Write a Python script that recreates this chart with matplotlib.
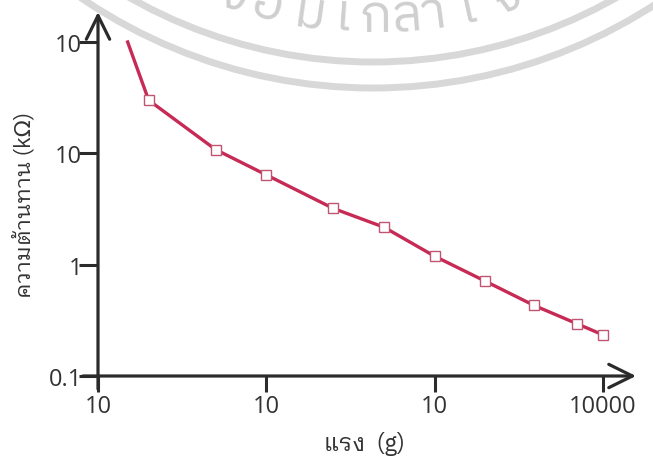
import numpy as np
import matplotlib
matplotlib.use("Agg")
import matplotlib.pyplot as plt
from matplotlib.patches import Circle

# data (log-log)
force_g = [15, 20, 50, 100, 250, 500, 1000, 2000, 3900, 7000, 10000]
resistance_k = [100, 30, 10.8, 6.4, 3.2, 2.17, 1.19, 0.71, 0.43, 0.295, 0.234]

x_ticks = [10, 100, 1000, 10000]
x_ticklabels = ["10", "10", "10", "10000"]
y_ticks = [0.1, 1, 10, 100]
y_ticklabels = ["0.1", "1", "10", "10"]

xlabel = "แรง  (g)"
ylabel = "ความต้านทาน (kΩ)"

# faint watermark text, characters placed along the arc
wm_chars = ["ะ", "จ", "อ", "ม", "เ", "ก", "ล้", "า", "เ", "จ้"]
wm_xpos = [204, 233, 267, 310, 343, 375, 407, 433, 468, 507]

W, H = 653, 460
axis_col = "#2b2b2b"
line_col = "#c62a55"
thai_font = ["IBM Plex Sans Thai Looped", "DejaVu Sans"]
num_font = ["Open Sans", "DejaVu Sans"]

fig = plt.figure(figsize=(W / 100, H / 100), dpi=100)
fig.patch.set_facecolor("white")

# background layer in pixel units for the watermark
bg = fig.add_axes([0, 0, 1, 1], zorder=0)
bg.set_xlim(0, W)
bg.set_ylim(H, 0)
bg.axis("off")
cx, cy = 373, -429
for r in (492, 518):
    bg.add_patch(Circle((cx, cy), r, fill=False, lw=5, ec="#d8d8d8"))
r_txt = 447
for ch, px in zip(wm_chars, wm_xpos):
    th = np.arcsin((px - cx) / r_txt)
    tx = cx + r_txt * np.sin(th)
    ty = cy + r_txt * np.cos(th)
    bg.text(tx, ty, ch, fontsize=38, color="#cfcfcf", family=["IBM Plex Sans Thai", "DejaVu Sans"],
            ha="center", va="center", rotation=np.degrees(th), rotation_mode="anchor")

# main axes, placed by pixel
x0, x1, y0, y1 = 98, 636, 377, 13
ax = fig.add_axes([x0 / W, 1 - y0 / H, (x1 - x0) / W, (y0 - y1) / H], zorder=1)
ax.patch.set_alpha(0)
ax.set_xscale("log")
ax.set_yscale("log")
dec_x = (603 - 98) / 3
dec_y = (377 - 43) / 3
ax.set_xlim(10, 10 ** (1 + (x1 - x0) / dec_x))
ax.set_ylim(0.1, 10 ** (-1 + (y0 - y1) / dec_y))
for s in ax.spines.values():
    s.set_visible(False)

ax.plot(force_g, resistance_k, color=line_col, lw=2.4, zorder=3, clip_on=False)
ax.plot(force_g[1:], resistance_k[1:], ls="none", marker="s", ms=7,
        mfc="white", mec="#c05573", mew=1.0, zorder=4, clip_on=False)

ax.set_xticks(x_ticks)
ax.set_xticklabels(x_ticklabels)
ax.set_yticks(y_ticks)
ax.set_yticklabels(y_ticklabels)
ax.minorticks_off()
ax.tick_params(axis="x", length=11.5, width=2.2, color=axis_col, pad=1.5, labelsize=17, labelcolor="#333333")
ax.tick_params(axis="y", length=13.5, width=2.2, color=axis_col, pad=-2, labelsize=17, labelcolor="#333333")
for lab in ax.get_xticklabels() + ax.get_yticklabels():
    lab.set_family(num_font)

# axis lines with open arrow heads
arrow = dict(arrowstyle="->,head_length=0.85,head_width=0.42", lw=2.3, color=axis_col,
             shrinkA=0, shrinkB=0, mutation_scale=20)
ax.annotate("", xy=(1, 0), xytext=(-15 / (x1 - x0), 0), xycoords="axes fraction",
            textcoords="axes fraction", arrowprops=arrow, annotation_clip=False)
ax.annotate("", xy=(0, 1), xytext=(0, -13 / (y0 - y1)), xycoords="axes fraction",
            textcoords="axes fraction", arrowprops=arrow, annotation_clip=False)

fig.text(364 / W, 1 - 444 / H, xlabel, family=thai_font, fontsize=17, color="#333333",
         ha="center", va="center")
fig.text(24 / W, 1 - 205 / H, ylabel, family=thai_font, fontsize=16, color="#333333",
         ha="center", va="center", rotation=90)

fig.savefig("out.png", dpi=100)
